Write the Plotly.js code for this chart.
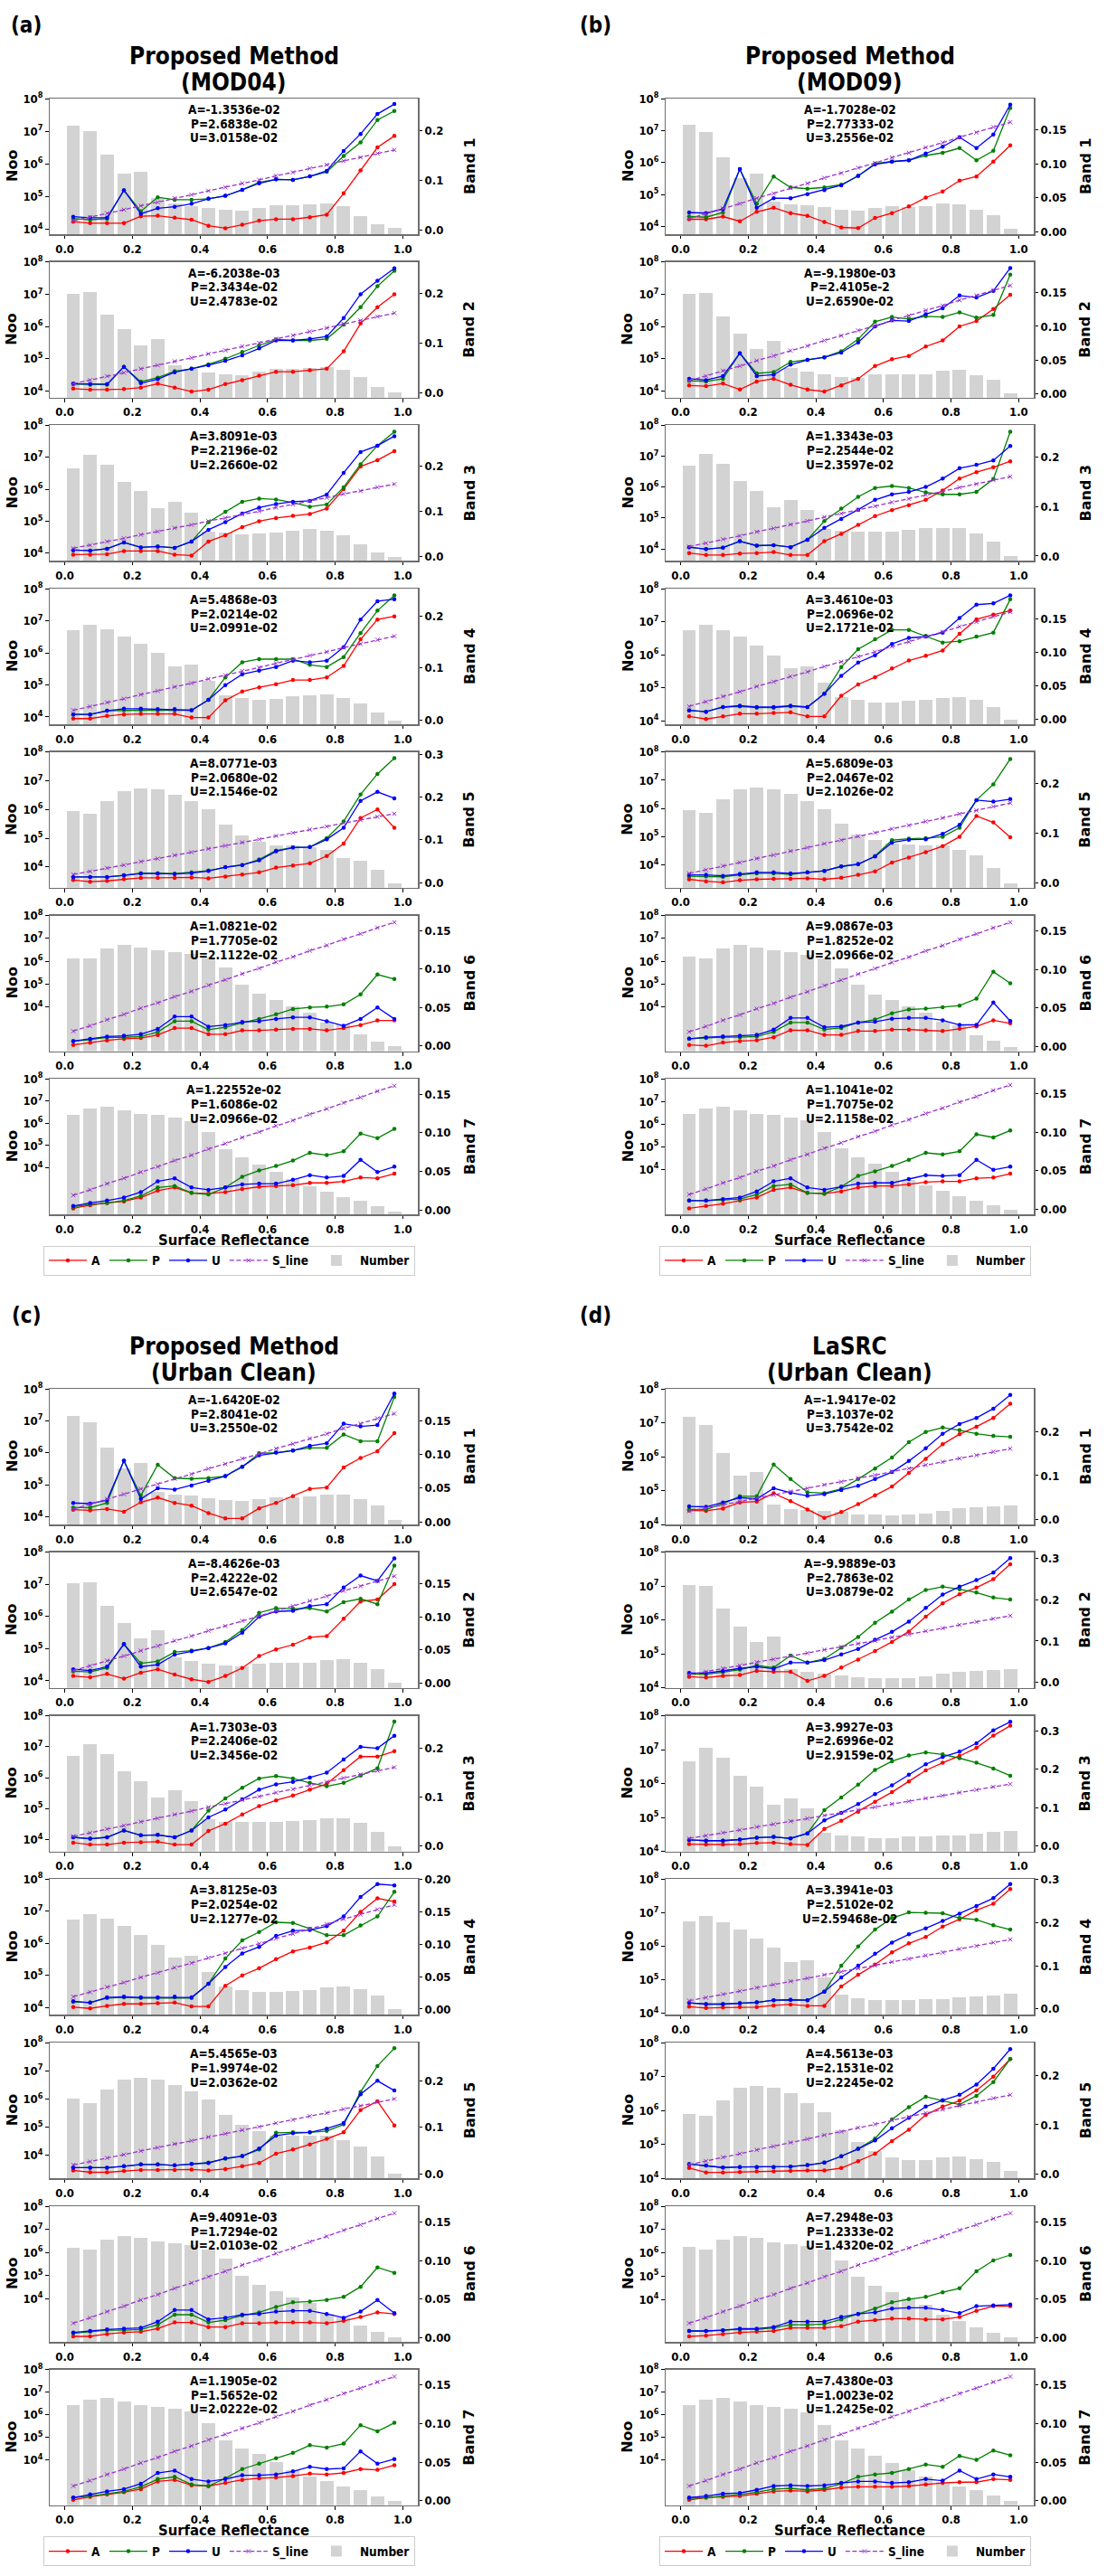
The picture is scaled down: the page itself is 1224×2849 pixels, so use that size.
<!DOCTYPE html>
<html>
<head>
<meta charset="utf-8">
<script src="https://cdn.plot.ly/plotly-3.0.1.min.js"></script>
<style>html,body{margin:0;padding:0;background:#fff;}</style>
</head>
<body>
<div id="chart" style="width:1224px;height:2849px;"></div>
<script>
// ---------------- DATA ----------------
const X = [0.025,0.075,0.125,0.175,0.225,0.275,0.325,0.375,0.425,0.475,0.525,0.575,0.625,0.675,0.725,0.775,0.825,0.875,0.925,0.975];
const S_line = [0.019,0.026,0.034,0.041,0.049,0.056,0.064,0.071,0.079,0.086,0.094,0.101,0.109,0.116,0.124,0.131,0.139,0.146,0.154,0.161];

// Panel (a) Proposed Method (MOD04)
const a1_bar = [1.5e7,1.0e7,1.9e6,5.1e5,5.6e5,8.9e4,6.0e4,5.2e4,4.5e4,3.9e4,3.7e4,4.5e4,5.5e4,5.6e4,5.9e4,6.3e4,5.1e4,2.6e4,1.4e4,1.1e4];
const a1_A = [0.017,0.014,0.014,0.014,0.028,0.029,0.025,0.021,0.009,0.004,0.011,0.019,0.022,0.022,0.026,0.031,0.074,0.120,0.166,0.189];
const a1_P = [0.023,0.021,0.023,0.080,0.038,0.066,0.061,0.061,0.063,0.069,0.081,0.096,0.102,0.101,0.108,0.117,0.149,0.176,0.221,0.239];
const a1_U = [0.027,0.025,0.025,0.080,0.033,0.044,0.047,0.053,0.063,0.069,0.081,0.094,0.102,0.101,0.108,0.119,0.159,0.193,0.233,0.253];
const a2_bar = [1.0e7,1.15e7,2.3e6,8.5e5,2.6e5,4.2e5,6.2e4,4.8e4,3.8e4,3.4e4,3.2e4,3.9e4,4.8e4,5.0e4,5.2e4,5.6e4,4.5e4,2.8e4,1.3e4,9.0e3];
const a2_A = [0.009,0.007,0.007,0.008,0.011,0.019,0.011,0.003,0.007,0.018,0.026,0.035,0.043,0.043,0.046,0.049,0.084,0.140,0.173,0.199];
const a2_P = [0.018,0.017,0.017,0.053,0.023,0.031,0.044,0.049,0.058,0.069,0.083,0.096,0.108,0.106,0.106,0.109,0.138,0.173,0.215,0.246];
const a2_U = [0.019,0.018,0.018,0.053,0.020,0.028,0.042,0.049,0.056,0.065,0.076,0.090,0.106,0.106,0.109,0.114,0.151,0.199,0.226,0.251];
const a3_bar = [4.6e6,1.2e7,6.0e6,1.66e6,8.9e5,2.6e5,4.0e5,1.9e5,4.6e4,4.3e4,3.9e4,4.1e4,4.5e4,5.0e4,5.6e4,5.1e4,3.7e4,1.95e4,1.05e4,7.8e3];
const a3_A = [0.005,0.005,0.006,0.013,0.013,0.013,0.005,0.003,0.034,0.048,0.066,0.079,0.086,0.091,0.095,0.107,0.150,0.200,0.214,0.234];
const a3_P = [0.015,0.014,0.018,0.032,0.021,0.023,0.020,0.034,0.077,0.100,0.122,0.129,0.127,0.120,0.111,0.116,0.154,0.205,0.246,0.277];
const a3_U = [0.015,0.014,0.018,0.032,0.021,0.023,0.020,0.034,0.060,0.077,0.096,0.109,0.117,0.122,0.124,0.138,0.186,0.232,0.246,0.267];
const a4_bar = [5.1e6,7.6e6,5.5e6,3.3e6,1.9e6,9.8e5,3.7e5,4.2e5,1.3e5,4.6e4,3.9e4,3.5e4,3.6e4,4.4e4,4.8e4,5.1e4,4.0e4,2.6e4,1.4e4,7.8e3];
const a4_A = [0.003,0.003,0.008,0.011,0.012,0.012,0.012,0.005,0.005,0.038,0.055,0.063,0.069,0.077,0.077,0.082,0.104,0.155,0.193,0.199];
const a4_P = [0.011,0.011,0.018,0.019,0.019,0.019,0.019,0.019,0.039,0.082,0.111,0.117,0.117,0.117,0.106,0.102,0.121,0.167,0.210,0.239];
const a4_U = [0.011,0.011,0.018,0.022,0.022,0.021,0.021,0.019,0.039,0.067,0.088,0.095,0.102,0.114,0.111,0.114,0.140,0.193,0.228,0.232];
const a5_bar = [8.9e5,7.1e5,2.0e6,4.5e6,5.5e6,4.9e6,3.3e6,1.9e6,1.0e6,2.9e5,1.3e5,7.5e4,5.7e4,5.7e4,5.0e4,3.9e4,2.0e4,1.7e4,8.2e3,2.7e3];
const a5_A = [0.006,0.002,0.004,0.008,0.011,0.011,0.011,0.012,0.010,0.014,0.019,0.024,0.035,0.040,0.045,0.062,0.091,0.151,0.171,0.128];
const a5_P = [0.013,0.013,0.013,0.017,0.022,0.022,0.021,0.024,0.028,0.036,0.041,0.054,0.075,0.082,0.083,0.104,0.143,0.206,0.254,0.291];
const a5_U = [0.013,0.013,0.013,0.017,0.021,0.021,0.020,0.022,0.027,0.036,0.041,0.052,0.073,0.082,0.083,0.101,0.128,0.191,0.212,0.197];
const a6_bar = [1.35e6,1.35e6,3.5e6,5.1e6,4.0e6,3.0e6,2.6e6,2.1e6,1.4e6,5.3e5,9.8e4,3.9e4,2.0e4,1.1e4,5.9e3,2.2e3,1.7e3,6.5e2,3.2e2,1.9e2];
const a6_A = [0.001,0.004,0.007,0.009,0.010,0.014,0.023,0.023,0.015,0.015,0.020,0.020,0.021,0.022,0.022,0.020,0.023,0.027,0.033,0.033];
const a6_P = [0.006,0.008,0.011,0.011,0.012,0.018,0.032,0.032,0.021,0.024,0.030,0.035,0.041,0.048,0.050,0.051,0.054,0.067,0.093,0.087];
const a6_U = [0.006,0.009,0.012,0.013,0.015,0.022,0.038,0.038,0.025,0.027,0.031,0.032,0.035,0.037,0.037,0.032,0.026,0.035,0.050,0.035];
const a7_bar = [2.3e6,4.6e6,5.5e6,3.9e6,2.6e6,2.3e6,1.9e6,1.3e6,4.0e5,7.0e4,2.9e4,1.45e4,6.6e3,3.0e3,1.45e3,8.5e2,5.0e2,3.2e2,1.8e2,1.1e2];
const a7_A = [0.002,0.006,0.009,0.011,0.016,0.025,0.029,0.022,0.021,0.023,0.027,0.030,0.031,0.032,0.035,0.035,0.037,0.042,0.041,0.047];
const a7_P = [0.004,0.007,0.009,0.012,0.018,0.029,0.031,0.022,0.020,0.029,0.043,0.051,0.057,0.064,0.074,0.071,0.076,0.099,0.093,0.105];
const a7_U = [0.005,0.009,0.012,0.016,0.023,0.037,0.041,0.029,0.026,0.029,0.033,0.034,0.034,0.039,0.045,0.042,0.044,0.065,0.049,0.056];

// Panel (b) Proposed Method (MOD09)
const b1_bar = [1.5e7,8.8e6,1.5e6,3.3e5,4.6e5,6.3e4,4.9e4,4.6e4,4.0e4,3.3e4,3.1e4,3.8e4,4.3e4,4.0e4,4.3e4,5.4e4,4.9e4,3.4e4,2.3e4,8.5e3];
const b1_A = [0.018,0.018,0.022,0.015,0.029,0.035,0.027,0.023,0.014,0.006,0.005,0.020,0.027,0.037,0.050,0.059,0.075,0.081,0.103,0.127];
const b1_P = [0.022,0.021,0.028,0.092,0.041,0.081,0.065,0.063,0.065,0.069,0.082,0.100,0.103,0.105,0.112,0.116,0.123,0.105,0.119,0.182];
const b1_U = [0.028,0.027,0.033,0.092,0.035,0.049,0.049,0.055,0.061,0.068,0.082,0.099,0.103,0.105,0.115,0.125,0.139,0.123,0.143,0.187];
const b2_bar = [1.05e7,1.08e7,2.0e6,6.0e5,2.05e5,3.5e5,5.1e4,4.0e4,3.3e4,2.8e4,2.6e4,3.3e4,3.4e4,3.4e4,3.4e4,4.4e4,4.5e4,3.2e4,2.3e4,8.4e3];
const b2_A = [0.012,0.011,0.015,0.006,0.018,0.022,0.013,0.006,0.003,0.012,0.022,0.041,0.051,0.056,0.070,0.079,0.100,0.108,0.126,0.147];
const b2_P = [0.019,0.018,0.022,0.060,0.030,0.032,0.047,0.050,0.054,0.063,0.081,0.107,0.114,0.111,0.115,0.114,0.121,0.113,0.117,0.177];
const b2_U = [0.022,0.020,0.026,0.060,0.026,0.028,0.043,0.050,0.054,0.061,0.076,0.100,0.109,0.108,0.118,0.127,0.146,0.143,0.153,0.187];
const b3_bar = [4.9e6,1.2e7,5.6e6,1.6e6,7.6e5,2.3e5,3.8e5,1.8e5,4.5e4,3.8e4,3.6e4,3.6e4,3.7e4,4.2e4,4.8e4,4.8e4,4.8e4,3.2e4,1.75e4,5.9e3];
const b3_A = [0.006,0.002,0.002,0.005,0.006,0.008,0.002,0.002,0.030,0.045,0.063,0.081,0.093,0.103,0.114,0.133,0.157,0.170,0.180,0.192];
const b3_P = [0.018,0.014,0.017,0.030,0.021,0.022,0.018,0.033,0.071,0.096,0.120,0.138,0.142,0.138,0.129,0.125,0.125,0.130,0.156,0.252];
const b3_U = [0.018,0.014,0.017,0.030,0.021,0.022,0.018,0.033,0.057,0.075,0.094,0.114,0.125,0.130,0.140,0.157,0.178,0.185,0.194,0.223];
const b4_bar = [5.6e6,8.1e6,5.6e6,3.6e6,1.9e6,9.7e5,3.9e5,4.5e5,1.4e5,5.3e4,4.3e4,3.6e4,3.6e4,4.0e4,4.3e4,4.9e4,5.3e4,4.3e4,2.6e4,1.1e4];
const b4_A = [0.004,0.000,0.004,0.008,0.008,0.009,0.010,0.004,0.004,0.035,0.052,0.063,0.076,0.088,0.095,0.103,0.128,0.150,0.157,0.163];
const b4_P = [0.013,0.011,0.018,0.019,0.017,0.017,0.019,0.018,0.038,0.078,0.105,0.120,0.134,0.134,0.125,0.115,0.117,0.124,0.130,0.180];
const b4_U = [0.013,0.011,0.018,0.020,0.018,0.018,0.020,0.018,0.038,0.065,0.085,0.096,0.113,0.122,0.124,0.130,0.152,0.172,0.174,0.186];
const b5_bar = [8.9e5,7.2e5,2.1e6,4.7e6,5.5e6,4.9e6,3.2e6,1.8e6,9.4e5,2.9e5,1.2e5,7.4e4,5.5e4,5.4e4,4.9e4,4.9e4,3.5e4,2.1e4,7.9e3,2.2e3];
const b5_A = [0.007,0.003,0.001,0.005,0.007,0.008,0.008,0.009,0.007,0.010,0.016,0.023,0.041,0.051,0.062,0.074,0.093,0.135,0.122,0.092];
const b5_P = [0.013,0.013,0.012,0.016,0.019,0.019,0.017,0.021,0.024,0.033,0.037,0.054,0.086,0.089,0.090,0.093,0.111,0.167,0.199,0.250];
const b5_U = [0.016,0.016,0.014,0.018,0.021,0.021,0.019,0.021,0.024,0.033,0.038,0.053,0.081,0.087,0.088,0.099,0.117,0.167,0.164,0.169];
const b6_bar = [1.55e6,1.35e6,3.6e6,5.1e6,4.0e6,3.0e6,2.5e6,1.95e6,1.3e6,4.8e5,9.3e4,3.5e4,1.95e4,1.05e4,5.5e3,2.2e3,1.5e3,5.9e2,3.2e2,1.8e2];
const b6_A = [0.002,0.001,0.005,0.007,0.008,0.012,0.021,0.021,0.015,0.015,0.020,0.020,0.022,0.022,0.021,0.020,0.023,0.026,0.034,0.030];
const b6_P = [0.010,0.011,0.012,0.012,0.013,0.019,0.031,0.031,0.022,0.024,0.031,0.035,0.043,0.048,0.049,0.051,0.053,0.062,0.097,0.082];
const b6_U = [0.010,0.012,0.013,0.014,0.015,0.022,0.037,0.037,0.025,0.026,0.031,0.032,0.036,0.037,0.037,0.034,0.028,0.028,0.057,0.033];
const b7_bar = [2.9e6,4.7e6,5.6e6,4.1e6,2.8e6,2.5e6,2.0e6,1.45e6,4.5e5,8.3e4,3.5e4,1.8e4,8.0e3,3.5e3,1.9e3,1.1e3,6.6e2,4.2e2,2.5e2,1.6e2];
const b7_A = [0.001,0.004,0.007,0.011,0.015,0.025,0.028,0.021,0.020,0.023,0.028,0.030,0.030,0.032,0.035,0.036,0.036,0.040,0.041,0.046];
const b7_P = [0.011,0.011,0.012,0.013,0.019,0.030,0.032,0.021,0.020,0.029,0.043,0.049,0.056,0.064,0.073,0.071,0.075,0.097,0.093,0.102];
const b7_U = [0.011,0.011,0.013,0.015,0.023,0.036,0.040,0.028,0.025,0.029,0.033,0.034,0.034,0.039,0.044,0.043,0.044,0.064,0.051,0.055];

// Panel (c) Proposed Method (Urban Clean)
const c1_bar = [1.4e7,9.1e6,1.45e6,3.3e5,4.7e5,6.1e4,5.0e4,4.5e4,3.9e4,3.3e4,3.1e4,3.5e4,4.1e4,4.0e4,4.3e4,5.0e4,5.0e4,3.5e4,2.3e4,8.1e3];
const c1_A = [0.018,0.017,0.019,0.015,0.029,0.036,0.028,0.024,0.013,0.005,0.005,0.020,0.028,0.038,0.049,0.051,0.081,0.095,0.105,0.132];
const c1_P = [0.021,0.021,0.028,0.091,0.039,0.085,0.065,0.064,0.065,0.068,0.082,0.102,0.103,0.106,0.110,0.110,0.130,0.120,0.120,0.186];
const c1_U = [0.028,0.027,0.032,0.091,0.034,0.050,0.048,0.054,0.061,0.068,0.082,0.099,0.103,0.106,0.113,0.117,0.146,0.142,0.144,0.191];
const c2_bar = [1.1e7,1.15e7,2.1e6,6.5e5,2.1e5,3.7e5,5.3e4,4.1e4,3.4e4,3.0e4,2.8e4,3.4e4,3.7e4,3.7e4,3.7e4,4.3e4,4.6e4,3.7e4,2.3e4,8.7e3];
const c2_A = [0.011,0.009,0.014,0.007,0.016,0.021,0.013,0.006,0.002,0.011,0.023,0.041,0.051,0.058,0.069,0.071,0.097,0.123,0.126,0.149];
const c2_P = [0.018,0.017,0.023,0.059,0.030,0.033,0.047,0.049,0.053,0.062,0.080,0.106,0.113,0.112,0.113,0.108,0.122,0.127,0.119,0.177];
const c2_U = [0.021,0.019,0.025,0.059,0.025,0.028,0.043,0.048,0.053,0.060,0.076,0.100,0.108,0.109,0.116,0.119,0.144,0.162,0.154,0.188];
const c3_bar = [4.9e6,1.2e7,5.8e6,1.56e6,7.6e5,2.3e5,3.8e5,1.8e5,4.6e4,3.8e4,3.8e4,3.8e4,3.8e4,4.0e4,4.4e4,4.9e4,4.9e4,3.4e4,1.8e4,6.0e3];
const c3_A = [0.006,0.002,0.002,0.006,0.007,0.008,0.002,0.002,0.030,0.045,0.064,0.081,0.093,0.103,0.115,0.127,0.155,0.183,0.183,0.194];
const c3_P = [0.017,0.014,0.017,0.031,0.021,0.022,0.017,0.031,0.072,0.097,0.119,0.138,0.143,0.138,0.129,0.122,0.129,0.144,0.159,0.255];
const c3_U = [0.017,0.014,0.017,0.031,0.021,0.022,0.017,0.031,0.058,0.074,0.095,0.115,0.126,0.131,0.140,0.150,0.177,0.203,0.200,0.226];
const c4_bar = [5.5e6,8.1e6,5.9e6,3.5e6,1.85e6,8.9e5,3.5e5,4.1e5,1.26e5,4.6e4,3.6e4,3.1e4,3.1e4,3.3e4,3.6e4,4.3e4,4.4e4,3.8e4,2.4e4,9.1e3];
const c4_A = [0.003,0.001,0.005,0.008,0.008,0.009,0.010,0.004,0.004,0.036,0.052,0.063,0.077,0.089,0.095,0.103,0.121,0.150,0.171,0.166];
const c4_P = [0.011,0.010,0.017,0.018,0.017,0.017,0.018,0.017,0.039,0.078,0.106,0.119,0.134,0.133,0.124,0.114,0.114,0.129,0.143,0.181];
const c4_U = [0.012,0.010,0.018,0.019,0.018,0.018,0.019,0.018,0.039,0.065,0.086,0.096,0.113,0.121,0.122,0.128,0.143,0.173,0.193,0.191];
const c5_bar = [1.0e6,7.4e5,2.1e6,4.9e6,5.8e6,4.9e6,3.2e6,1.8e6,9.7e5,2.8e5,1.2e5,7.1e4,5.1e4,5.1e4,4.8e4,4.8e4,3.4e4,2.0e4,8.8e3,2.2e3];
const c5_A = [0.007,0.003,0.003,0.006,0.008,0.008,0.008,0.009,0.007,0.010,0.016,0.023,0.043,0.052,0.063,0.075,0.089,0.137,0.156,0.104];
const c5_P = [0.013,0.013,0.013,0.016,0.020,0.020,0.018,0.021,0.024,0.032,0.038,0.052,0.088,0.089,0.089,0.092,0.106,0.176,0.232,0.270];
const c5_U = [0.013,0.013,0.013,0.016,0.020,0.020,0.018,0.021,0.023,0.033,0.038,0.054,0.082,0.087,0.089,0.097,0.109,0.171,0.200,0.179];
const c6_bar = [1.6e6,1.3e6,3.6e6,5.3e6,4.2e6,3.0e6,2.5e6,2.0e6,1.3e6,5.2e5,1.0e5,4.0e4,2.1e4,1.1e4,6.3e3,2.3e3,1.5e3,7.1e2,3.6e2,2.1e2];
const c6_A = [0.002,0.002,0.005,0.007,0.008,0.012,0.020,0.020,0.014,0.014,0.019,0.019,0.020,0.020,0.020,0.019,0.022,0.027,0.033,0.031];
const c6_P = [0.006,0.008,0.010,0.010,0.011,0.017,0.030,0.030,0.020,0.023,0.029,0.033,0.040,0.046,0.047,0.049,0.053,0.066,0.091,0.084];
const c6_U = [0.007,0.009,0.011,0.012,0.013,0.021,0.036,0.036,0.024,0.026,0.030,0.031,0.034,0.035,0.035,0.031,0.026,0.034,0.049,0.032];
const c7_bar = [2.6e6,4.7e6,5.8e6,3.9e6,2.6e6,2.35e6,1.9e6,1.4e6,4.2e5,7.7e4,3.3e4,1.8e4,8.0e3,3.7e3,1.9e3,1.15e3,6.6e2,4.6e2,2.4e2,1.6e2];
const c7_A = [0.001,0.005,0.008,0.011,0.015,0.025,0.027,0.020,0.019,0.023,0.027,0.029,0.030,0.032,0.035,0.034,0.036,0.041,0.040,0.046];
const c7_P = [0.004,0.006,0.009,0.012,0.018,0.028,0.031,0.021,0.019,0.029,0.041,0.048,0.055,0.062,0.072,0.069,0.074,0.098,0.090,0.101];
const c7_U = [0.004,0.008,0.012,0.015,0.022,0.036,0.039,0.028,0.025,0.028,0.033,0.033,0.034,0.038,0.044,0.041,0.042,0.064,0.048,0.054];

// Panel (d) LaSRC (Urban Clean)
const d1_bar = [1.5e7,8.5e6,1.3e6,2.8e5,3.6e5,3.8e4,2.9e4,2.7e4,2.5e4,2.3e4,2.0e4,1.95e4,1.9e4,1.95e4,2.1e4,2.5e4,3.1e4,3.3e4,3.4e4,3.7e4];
const d1_A = [0.021,0.020,0.025,0.039,0.041,0.060,0.042,0.023,0.004,0.017,0.035,0.055,0.075,0.106,0.138,0.171,0.194,0.211,0.231,0.263];
const d1_P = [0.023,0.023,0.036,0.053,0.053,0.125,0.092,0.062,0.060,0.070,0.092,0.116,0.141,0.176,0.199,0.209,0.203,0.195,0.190,0.188];
const d1_U = [0.030,0.029,0.039,0.050,0.047,0.071,0.061,0.054,0.058,0.067,0.077,0.092,0.108,0.133,0.162,0.195,0.217,0.231,0.252,0.283];
const d2_bar = [1.1e7,1.05e7,2.2e6,6.3e5,2.2e5,3.3e5,3.6e4,2.9e4,2.6e4,2.3e4,2.1e4,1.9e4,1.9e4,1.9e4,2.2e4,2.7e4,2.9e4,3.1e4,3.3e4,3.6e4];
const d2_A = [0.014,0.012,0.016,0.018,0.028,0.026,0.026,0.004,0.016,0.036,0.055,0.076,0.098,0.123,0.159,0.191,0.213,0.229,0.249,0.285];
const d2_P = [0.020,0.020,0.025,0.031,0.041,0.036,0.065,0.048,0.057,0.084,0.110,0.144,0.171,0.200,0.223,0.231,0.225,0.217,0.205,0.200];
const d2_U = [0.023,0.023,0.028,0.034,0.038,0.033,0.048,0.048,0.054,0.068,0.081,0.103,0.122,0.147,0.180,0.212,0.231,0.247,0.265,0.300];
const d3_bar = [4.6e6,1.15e7,5.7e6,1.65e6,7.9e5,2.4e5,3.6e5,1.85e5,3.5e4,3.0e4,2.7e4,2.4e4,2.4e4,2.7e4,2.8e4,3.0e4,3.0e4,3.3e4,3.8e4,4.0e4];
const d3_A = [0.004,0.003,0.003,0.004,0.007,0.008,0.004,0.002,0.044,0.065,0.089,0.115,0.140,0.168,0.197,0.217,0.235,0.256,0.288,0.314];
const d3_P = [0.015,0.013,0.013,0.016,0.021,0.023,0.019,0.032,0.093,0.126,0.160,0.198,0.221,0.236,0.244,0.239,0.229,0.217,0.202,0.183];
const d3_U = [0.015,0.013,0.013,0.016,0.021,0.023,0.019,0.032,0.066,0.086,0.109,0.135,0.158,0.186,0.213,0.232,0.246,0.268,0.302,0.324];
const d4_bar = [5.5e6,7.9e6,5.3e6,3.1e6,1.7e6,8.9e5,3.4e5,3.9e5,1.2e5,3.6e4,2.8e4,2.5e4,2.5e4,2.5e4,2.6e4,2.6e4,2.9e4,3.2e4,3.4e4,3.8e4];
const d4_A = [0.005,0.002,0.003,0.004,0.004,0.008,0.010,0.007,0.007,0.052,0.079,0.103,0.131,0.152,0.167,0.191,0.208,0.229,0.244,0.278];
const d4_P = [0.014,0.011,0.011,0.013,0.015,0.020,0.021,0.020,0.040,0.100,0.145,0.184,0.211,0.224,0.223,0.222,0.211,0.207,0.194,0.184];
const d4_U = [0.014,0.011,0.011,0.013,0.015,0.020,0.021,0.020,0.040,0.073,0.100,0.128,0.154,0.173,0.187,0.204,0.221,0.239,0.257,0.290];
const d5_bar = [7.9e5,6.8e5,2.0e6,4.7e6,5.4e6,4.7e6,3.2e6,1.7e6,9.1e5,2.7e5,1.15e5,6.4e4,4.2e4,3.4e4,3.4e4,4.1e4,4.5e4,3.6e4,3.0e4,1.7e4];
const d5_A = [0.012,0.003,0.003,0.004,0.005,0.005,0.006,0.007,0.007,0.012,0.026,0.041,0.067,0.090,0.120,0.137,0.149,0.170,0.198,0.234];
const d5_P = [0.020,0.017,0.013,0.014,0.014,0.014,0.015,0.018,0.023,0.036,0.051,0.072,0.111,0.136,0.157,0.149,0.141,0.159,0.187,0.234];
const d5_U = [0.020,0.017,0.013,0.014,0.014,0.014,0.015,0.018,0.023,0.036,0.051,0.068,0.093,0.114,0.137,0.150,0.161,0.182,0.214,0.254];
const d6_bar = [1.8e6,1.35e6,3.6e6,5.2e6,4.2e6,2.9e6,2.4e6,1.9e6,1.35e6,4.8e5,9.2e4,3.9e4,2.0e4,1.1e4,5.9e3,2.3e3,1.2e3,6.6e2,3.7e2,2.3e2];
const d6_A = [0.002,0.003,0.005,0.007,0.008,0.009,0.013,0.013,0.013,0.015,0.021,0.023,0.025,0.025,0.024,0.024,0.027,0.035,0.041,0.041];
const d6_P = [0.009,0.009,0.010,0.011,0.011,0.013,0.017,0.017,0.018,0.024,0.031,0.038,0.046,0.050,0.053,0.059,0.064,0.086,0.100,0.107];
const d6_U = [0.009,0.009,0.010,0.012,0.012,0.014,0.021,0.021,0.021,0.027,0.031,0.033,0.038,0.039,0.039,0.036,0.032,0.041,0.042,0.043];
const d7_bar = [2.8e6,4.8e6,5.8e6,3.9e6,2.6e6,2.2e6,1.8e6,1.25e6,3.5e5,7.8e4,3.3e4,1.6e4,7.4e3,3.5e3,1.8e3,1.07e3,6.5e2,4.6e2,2.6e2,1.6e2];
const d7_A = [0.001,0.004,0.005,0.006,0.009,0.012,0.013,0.012,0.014,0.017,0.018,0.018,0.018,0.019,0.021,0.023,0.024,0.024,0.028,0.027];
const d7_P = [0.003,0.004,0.006,0.008,0.011,0.015,0.016,0.014,0.016,0.022,0.031,0.034,0.036,0.041,0.047,0.044,0.058,0.053,0.065,0.059];
const d7_U = [0.004,0.006,0.009,0.010,0.014,0.019,0.020,0.019,0.020,0.023,0.025,0.025,0.023,0.024,0.028,0.026,0.039,0.028,0.034,0.031];

// Text labels
const panelLabels = ['(a)','(b)','(c)','(d)'];
const panelTitles = [['Proposed Method','(MOD04)'],['Proposed Method','(MOD09)'],['Proposed Method','(Urban Clean)'],['LaSRC','(Urban Clean)']];
const bandNames = ['Band 1','Band 2','Band 3','Band 4','Band 5','Band 6','Band 7'];
const statsA = [
 ['A=-1.3536e-02','A=-6.2038e-03','A=3.8091e-03','A=5.4868e-03','A=8.0771e-03','A=1.0821e-02','A=1.22552e-02'],
 ['A=-1.7028e-02','A=-9.1980e-03','A=1.3343e-03','A=3.4610e-03','A=5.6809e-03','A=9.0867e-03','A=1.1041e-02'],
 ['A=-1.6420E-02','A=-8.4626e-03','A=1.7303e-03','A=3.8125e-03','A=5.4565e-03','A=9.4091e-03','A=1.1905e-02'],
 ['A=-1.9417e-02','A=-9.9889e-03','A=3.9927e-03','A=3.3941e-03','A=4.5613e-03','A=7.2948e-03','A=7.4380e-03']];
const statsP = [
 ['P=2.6838e-02','P=2.3434e-02','P=2.2196e-02','P=2.0214e-02','P=2.0680e-02','P=1.7705e-02','P=1.6086e-02'],
 ['P=2.77333-02','P=2.4105e-2','P=2.2544e-02','P=2.0696e-02','P=2.0467e-02','P=1.8252e-02','P=1.7075e-02'],
 ['P=2.8041e-02','P=2.4222e-02','P=2.2406e-02','P=2.0254e-02','P=1.9974e-02','P=1.7294e-02','P=1.5652e-02'],
 ['P=3.1037e-02','P=2.7863e-02','P=2.6996e-02','P=2.5102e-02','P=2.1531e-02','P=1.2333e-02','P=1.0023e-02']];
const statsU = [
 ['U=3.0158e-02','U=2.4783e-02','U=2.2660e-02','U=2.0991e-02','U=2.1546e-02','U=2.1122e-02','U=2.0966e-02'],
 ['U=3.2556e-02','U=2.6590e-02','U=2.3597e-02','U=2.1721e-02','U=2.1026e-02','U=2.0966e-02','U=2.1158e-02'],
 ['U=3.2550e-02','U=2.6547e-02','U=2.3456e-02','U=2.1277e-02','U=2.0362e-02','U=2.0103e-02','U=2.0222e-02'],
 ['U=3.7542e-02','U=3.0879e-02','U=2.9159e-02','U=2.59468e-02','U=2.2245e-02','U=1.4320e-02','U=1.2425e-02']];
const leftTickVals = [1e4,1e5,1e6,1e7,1e8];
const leftTickText = ['10<sup>4</sup>','10<sup>5</sup>','10<sup>6</sup>','10<sup>7</sup>','10<sup>8</sup>'];
const xTitle = 'Surface Reflectance';

// ---------------- AXIS SCALES ----------------
const leftLow = [[3.85,3.8,3.76,3.77,3.28,2.08,1.9],[3.77,3.8,3.61,3.89,3.19,2.06,2.0],[3.76,3.78,3.62,3.77,3.18,2.13,2.0],[4.0,4.0,4.0,3.95,4.0,2.18,2.0]];
const rightAx = [
 [[-0.008,0.264,0.1],[-0.009,0.264,0.1],[-0.009,0.291,0.1],[-0.008,0.252,0.1],[-0.012,0.305,0.1],[-0.007,0.170,0.05],[-0.006,0.170,0.05]],
 [[-0.004,0.196,0.05],[-0.006,0.196,0.05],[-0.010,0.265,0.1],[-0.008,0.196,0.05],[-0.010,0.264,0.1],[-0.006,0.170,0.05],[-0.007,0.169,0.05]],
 [[-0.004,0.198,0.05],[-0.007,0.197,0.05],[-0.012,0.267,0.1],[-0.009,0.2005,0.05],[-0.010,0.282,0.1],[-0.005,0.170,0.05],[-0.006,0.170,0.05]],
 [[-0.011,0.297,0.1],[-0.013,0.314,0.1],[-0.015,0.340,0.1],[-0.014,0.301,0.1],[-0.009,0.267,0.1],[-0.005,0.170,0.05],[-0.006,0.170,0.05]]];

const PANELS = [
 {bars:[a1_bar,a2_bar,a3_bar,a4_bar,a5_bar,a6_bar,a7_bar], A:[a1_A,a2_A,a3_A,a4_A,a5_A,a6_A,a7_A], P:[a1_P,a2_P,a3_P,a4_P,a5_P,a6_P,a7_P], U:[a1_U,a2_U,a3_U,a4_U,a5_U,a6_U,a7_U]},
 {bars:[b1_bar,b2_bar,b3_bar,b4_bar,b5_bar,b6_bar,b7_bar], A:[b1_A,b2_A,b3_A,b4_A,b5_A,b6_A,b7_A], P:[b1_P,b2_P,b3_P,b4_P,b5_P,b6_P,b7_P], U:[b1_U,b2_U,b3_U,b4_U,b5_U,b6_U,b7_U]},
 {bars:[c1_bar,c2_bar,c3_bar,c4_bar,c5_bar,c6_bar,c7_bar], A:[c1_A,c2_A,c3_A,c4_A,c5_A,c6_A,c7_A], P:[c1_P,c2_P,c3_P,c4_P,c5_P,c6_P,c7_P], U:[c1_U,c2_U,c3_U,c4_U,c5_U,c6_U,c7_U]},
 {bars:[d1_bar,d2_bar,d3_bar,d4_bar,d5_bar,d6_bar,d7_bar], A:[d1_A,d2_A,d3_A,d4_A,d5_A,d6_A,d7_A], P:[d1_P,d2_P,d3_P,d4_P,d5_P,d6_P,d7_P], U:[d1_U,d2_U,d3_U,d4_U,d5_U,d6_U,d7_U]}
];

// ---------------- LAYOUT / BUILD ----------------
const W = 1224, H = 2849;
const FAM_C = '"DejaVu Sans Condensed", "Liberation Sans Narrow", "DejaVu Sans", sans-serif';
const FAM = '"DejaVu Sans", sans-serif';
const plotLeft = [55, 736], plotW = 407;
const labelX = [29, 658];
const nooOff = -42, bandOff = 57;
const rowTop = [109, 1536], rowStep = [180.7, 180.8], plotH = 150;
const FRAME = '#6e6e6e';
const COLORS = {A:'#ff0000', P:'#008000', U:'#0000ff', S:'#9932cc', N:'#d3d3d3'};
const fc = (s)=>({family:FAM_C, size:s, color:'#000', weight:'bold'});
const fr = (s)=>({family:FAM, size:s, color:'#000', weight:'bold'});

const traces = [];
const layout = {width:W, height:H, margin:{l:0,r:0,t:0,b:0}, paper_bgcolor:'#fff', plot_bgcolor:'rgba(0,0,0,0)',
  font:fc(13), annotations:[], showlegend:true, bargap:0};
let n = 0;
PANELS.forEach((p, pi) => {
  const col = pi % 2, row = Math.floor(pi / 2);
  const x0 = plotLeft[col], x1 = x0 + plotW;
  const legId = pi === 0 ? 'legend' : 'legend' + (pi + 1);
  for (let b = 0; b < 7; b++) {
    n++;
    const xs = n === 1 ? '' : String(n);
    const yl = 2*n - 1, yr = 2*n;
    const yls = yl === 1 ? '' : String(yl);
    const xid = 'x' + xs, ylid = 'y' + yls, yrid = 'y' + yr;
    const top = rowTop[row] + b * rowStep[row], bot = top + plotH;
    const xd = [x0 / W, x1 / W], yd = [1 - bot / H, 1 - top / H];
    layout['xaxis' + xs] = {domain:xd, anchor:ylid, range:[-0.0445,1.0445], tick0:0, dtick:0.2, tickformat:'.1f',
      ticks:'outside', ticklen:3.5, tickwidth:1, tickcolor:'#000', showline:true, mirror:true, linecolor:FRAME, linewidth:1.5,
      showgrid:false, zeroline:false, tickfont:fc(13), fixedrange:true};
    layout['yaxis' + yls] = {domain:yd, anchor:xid, type:'log', range:[leftLow[pi][b], 8], tickmode:'array',
      tickvals:leftTickVals, ticktext:leftTickText, ticks:'outside', ticklen:3.5, tickcolor:'#000', showline:true,
      linecolor:FRAME, linewidth:1.5, showgrid:false, zeroline:false, tickfont:fc(13), fixedrange:true};
    const ra = rightAx[pi][b];
    layout['yaxis' + yr] = {overlaying:ylid, side:'right', anchor:xid, range:[ra[0], ra[1]], tick0:0, dtick:ra[2],
      tickformat: ra[2] === 0.1 ? '.1f' : '.2f', ticks:'outside', ticklen:3.5, tickcolor:'#000', showline:true,
      linecolor:FRAME, linewidth:1.5, showgrid:false, zeroline:false, tickfont:fc(13), fixedrange:true};
    const show = b === 0;
    const lineTrace = (name, y, color) => ({type:'scatter', mode:'lines+markers', name:name, x:X, y:y, xaxis:xid, yaxis:yrid,
      line:{color:color, width:1.3}, marker:{color:color, size:4.5, symbol:'circle'}, showlegend:show, legend:legId, hoverinfo:'skip'});
    traces.push(lineTrace('A', p.A[b], COLORS.A));
    traces.push(lineTrace('P', p.P[b], COLORS.P));
    traces.push(lineTrace('U', p.U[b], COLORS.U));
    traces.push({type:'scatter', mode:'lines+markers', name:'S_line', x:X, y:S_line, xaxis:xid, yaxis:yrid,
      line:{color:COLORS.S, width:1.3, dash:'5px,2.5px'}, marker:{symbol:'x-thin', size:4.5, color:COLORS.S, line:{color:COLORS.S, width:1}},
      showlegend:show, legend:legId, hoverinfo:'skip'});
    traces.push({type:'bar', name:'Number', x:X, y:p.bars[b], width:0.04, xaxis:xid, yaxis:ylid,
      marker:{color:COLORS.N, line:{width:0}}, showlegend:show, legend:legId, hoverinfo:'skip'});
    // stats text, one annotation per line
    const cxs = (x0 + plotW / 2) / W;
    [statsA[pi][b], statsP[pi][b], statsU[pi][b]].forEach((t, k) => {
      layout.annotations.push({xref:'paper', yref:'paper', x:cxs, y:1 - (top + 12 + k * 15.7) / H, xanchor:'center', yanchor:'middle',
        text:t, showarrow:false, font:fc(13.5)});
    });
    // axis titles
    const yc = 1 - (top + plotH / 2) / H;
    layout.annotations.push({xref:'paper', yref:'paper', x:(x0 + nooOff) / W, y:yc, xanchor:'center', yanchor:'middle',
      text:'Noo', textangle:-90, showarrow:false, font:fr(16)});
    layout.annotations.push({xref:'paper', yref:'paper', x:(x1 + bandOff) / W, y:yc, xanchor:'center', yanchor:'middle',
      text:bandNames[b], textangle:-90, showarrow:false, font:fr(16)});
  }
  const cx = (x0 + plotW / 2) / W;
  const off = row === 0 ? 0 : 1427;
  layout.annotations.push({xref:'paper', yref:'paper', x:cx, y:1 - (off + 62) / H, xanchor:'center', yanchor:'middle',
    text:panelTitles[pi][0], showarrow:false, font:fc(26)});
  layout.annotations.push({xref:'paper', yref:'paper', x:cx, y:1 - (off + 91) / H, xanchor:'center', yanchor:'middle',
    text:panelTitles[pi][1], showarrow:false, font:fc(26)});
  layout.annotations.push({xref:'paper', yref:'paper', x:labelX[col] / W, y:1 - (off + 28) / H, xanchor:'center', yanchor:'middle',
    text:panelLabels[pi], showarrow:false, font:fc(24)});
  const botLast = rowTop[row] + 6 * rowStep[row] + plotH;
  layout.annotations.push({xref:'paper', yref:'paper', x:cx, y:1 - (botLast + 28) / H, xanchor:'center', yanchor:'middle',
    text:xTitle, showarrow:false, font:fc(16.5)});
  layout[legId] = {orientation:'h', x:(x0 + plotW / 2 - 5) / W, y:1 - (botLast + 51) / H, xanchor:'center', yanchor:'middle',
    bordercolor:'#cccccc', borderwidth:1, bgcolor:'#fff', font:fc(13.5), itemwidth:42, traceorder:'normal'};
});

Plotly.newPlot('chart', traces, layout, {staticPlot:true, displayModeBar:false});
</script>
</body>
</html>
